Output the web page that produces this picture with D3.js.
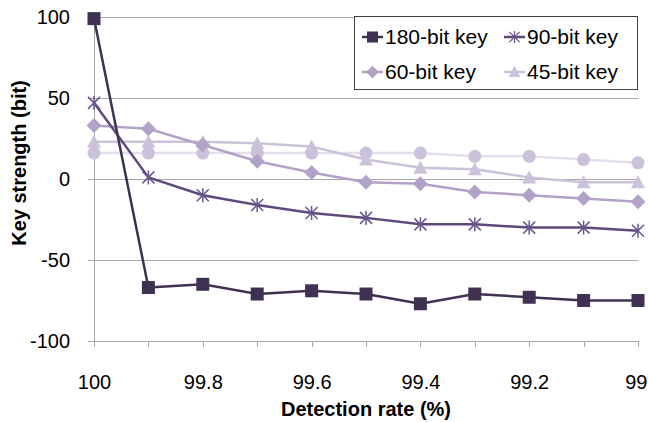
<!DOCTYPE html>
<html>
<head>
<meta charset="utf-8">
<script src="https://cdn.jsdelivr.net/npm/d3@7"></script>
<style>
  html, body { margin: 0; padding: 0; background: #fff; }
  svg { display: block; font-family: "Liberation Sans", Arial, sans-serif; }
</style>
</head>
<body>
<svg id="chart" width="648" height="422"></svg>
<script>
// ---- data ----
const detectionRates = [100, 99.9, 99.8, 99.7, 99.6, 99.5, 99.4, 99.3, 99.2, 99.1, 99];
const xTickLabels = ["100", "99.8", "99.6", "99.4", "99.2", "99"];
const yTicks = [-100, -50, 0, 50, 100];
const yTickLabels = ["-100", "-50", "0", "50", "100"];
const key180 = [99, -67, -65, -71, -69, -71, -77, -71, -73, -75, -75];
const key90 = [47, 1, -10, -16, -21, -24, -28, -28, -30, -30, -32];
const key60 = [33, 31, 21, 11, 4, -2, -3, -8, -10, -12, -14];
const key45 = [23, 23, 23, 22, 20, 12, 7, 6, 1, -2, -2];
const keyUnlisted = [16, 16, 16, 16, 16, 16, 16, 14, 14, 12, 10];
const seriesNames = ["180-bit key", "90-bit key", "60-bit key", "45-bit key", ""];

// ---- layout ----
const svg = d3.select("#chart");
const plot = { left: 94, right: 638, top: 17, bottom: 341 };
const x = d3.scaleLinear().domain([100, 99]).range([plot.left, plot.right]);
const y = d3.scaleLinear().domain([-100, 100]).range([plot.bottom, plot.top]);
const gridColor = "#a6a6a6";

// gridlines
svg.append("g").selectAll("line").data(yTicks.filter(v => v > -100)).join("line")
  .attr("x1", plot.left).attr("x2", plot.right)
  .attr("y1", d => y(d)).attr("y2", d => y(d))
  .attr("stroke", gridColor).attr("stroke-width", 1).attr("shape-rendering", "crispEdges");

// y axis
const yAxis = d3.axisLeft(y).tickValues(yTicks).tickSize(6).tickPadding(18)
  .tickFormat((d, i) => yTickLabels[i]);
const gy = svg.append("g").attr("transform", `translate(${plot.left},0)`).call(yAxis);
gy.select(".domain").attr("stroke", gridColor).attr("shape-rendering", "crispEdges");
gy.selectAll(".tick line").attr("stroke", gridColor).attr("shape-rendering", "crispEdges");
gy.selectAll(".tick text").attr("font-size", 20).attr("fill", "#000")
  .attr("font-family", "Liberation Sans, Arial, sans-serif");

// x axis
const xAxis = d3.axisBottom(x).tickValues(detectionRates).tickSize(6).tickPadding(28)
  .tickFormat((d, i) => i % 2 === 0 ? xTickLabels[i / 2] : "");
const gx = svg.append("g").attr("transform", `translate(0,${plot.bottom})`).call(xAxis);
gx.select(".domain").attr("stroke", gridColor).attr("shape-rendering", "crispEdges");
gx.selectAll(".tick line").attr("stroke", gridColor).attr("shape-rendering", "crispEdges");
gx.selectAll(".tick text").attr("font-size", 20).attr("fill", "#000")
  .attr("font-family", "Liberation Sans, Arial, sans-serif");
// keep the last label inside the picture
gx.selectAll(".tick text").filter((d, i, n) => i === n.length - 1)
  .attr("text-anchor", "end").attr("x", 9);

// axis titles
svg.append("text").attr("x", (plot.left + plot.right) / 2).attr("y", 416)
  .attr("text-anchor", "middle").attr("font-size", 20).attr("font-weight", "bold")
  .text("Detection rate (%)");
svg.append("text").attr("transform", "translate(26,163) rotate(-90)")
  .attr("text-anchor", "middle").attr("font-size", 20).attr("font-weight", "bold")
  .text("Key strength (bit)");

// marker shapes
function markerPath(type) {
  switch (type) {
    case "square": return "M-6.5,-6.5H6.5V6.5H-6.5Z";
    case "diamond": return "M0,-7.5L7.5,0L0,7.5L-7.5,0Z";
    case "triangle": return "M0,-7L7,6H-7Z";
    case "circle": return "M6.5,0A6.5,6.5 0 1,1 -6.5,0A6.5,6.5 0 1,1 6.5,0Z";
    case "star": return "M-6,-6L6,6M6,-6L-6,6M0,-7V7";
  }
}

const series = [
  { name: seriesNames[4], values: keyUnlisted, line: "#e4dfec", marker: "#ccc1da", shape: "circle" },
  { name: seriesNames[3], values: key45, line: "#ccc1da", marker: "#ccc1da", shape: "triangle" },
  { name: seriesNames[2], values: key60, line: "#b3a2c7", marker: "#b3a2c7", shape: "diamond" },
  { name: seriesNames[1], values: key90, line: "#5f497a", marker: "#6b5690", shape: "star" },
  { name: seriesNames[0], values: key180, line: "#403152", marker: "#403152", shape: "square" }
];

const lineGen = d3.line().x((d, i) => x(detectionRates[i])).y(d => y(d));

series.forEach(s => {
  const g = svg.append("g");
  g.append("path").attr("d", lineGen(s.values)).attr("fill", "none")
    .attr("stroke", s.line).attr("stroke-width", 2.5).attr("stroke-linejoin", "round");
  g.selectAll("path.m").data(s.values).join("path").attr("class", "m")
    .attr("transform", (d, i) => `translate(${x(detectionRates[i])},${y(d)})`)
    .attr("d", markerPath(s.shape))
    .attr("fill", s.shape === "star" ? "none" : s.marker)
    .attr("stroke", s.shape === "star" ? s.marker : "none")
    .attr("stroke-width", 1.5);
});

// legend
const legend = svg.append("g");
legend.append("rect").attr("x", 354.5).attr("y", 16.5).attr("width", 283).attr("height", 73)
  .attr("fill", "#fff").attr("stroke", "#404040").attr("stroke-width", 1);
const legendItems = [
  { s: series[4], x: 362, y: 37 },
  { s: series[3], x: 504, y: 37 },
  { s: series[2], x: 362, y: 72 },
  { s: series[1], x: 504, y: 72 }
];
legendItems.forEach(it => {
  const g = legend.append("g").attr("transform", `translate(${it.x},${it.y})`);
  g.append("line").attr("x1", 0).attr("x2", 21).attr("stroke", it.s.line).attr("stroke-width", 2.5);
  g.append("path").attr("transform", "translate(10.5,0) scale(0.85)").attr("d", markerPath(it.s.shape))
    .attr("fill", it.s.shape === "star" ? "none" : it.s.marker)
    .attr("stroke", it.s.shape === "star" ? it.s.marker : "none").attr("stroke-width", 1.5);
  g.append("text").attr("x", 23).attr("y", 0).attr("dy", "0.35em")
    .attr("font-size", 21).text(it.s.name);
});
</script>
</body>
</html>
